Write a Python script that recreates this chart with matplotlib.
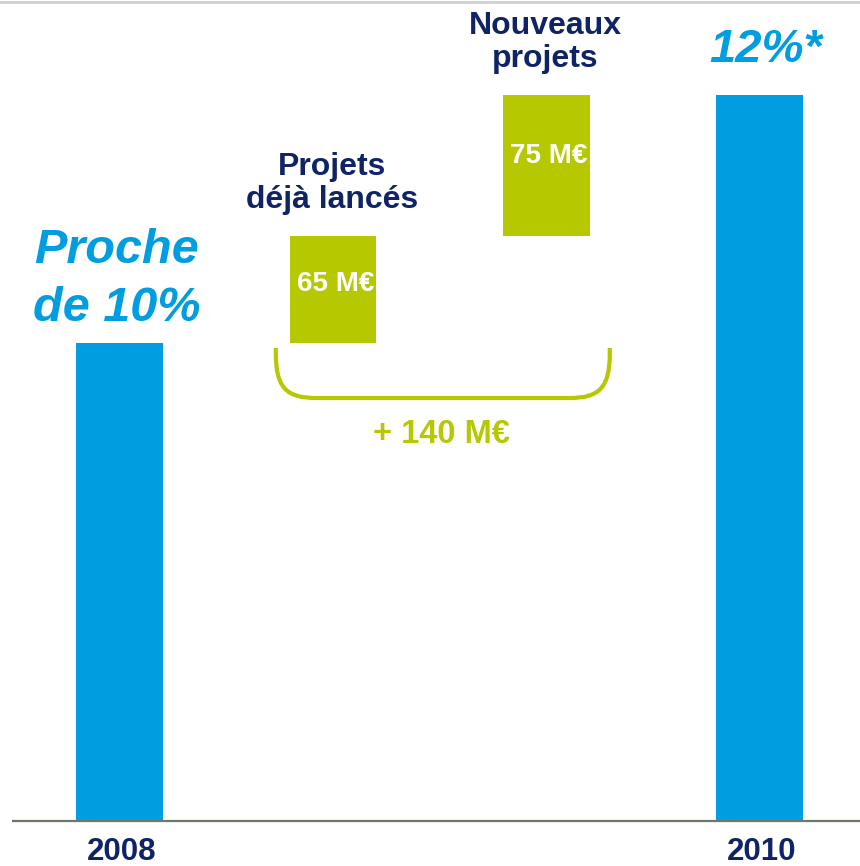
import numpy as np
import matplotlib.pyplot as plt
from matplotlib.path import Path
from matplotlib.patches import PathPatch
from matplotlib.lines import Line2D

# bar heights as drawn (the chart is not to scale, units are arbitrary)
years = ['2008', '2010']
base_2008 = 4.78
step_deja = 1.07
step_nouveaux = 1.41
total_2010 = base_2008 + step_deja + step_nouveaux

step_labels = ['65 M€', '75 M€']
step_titles = ['Projets\ndéjà lancés', 'Nouveaux\nprojets']
total_label = '+ 140 M€'
top_labels = ['Proche\nde 10%', '12%*']

BLUE = '#009ee0'
GREEN = '#b5c800'
NAVY = '#0f2466'

plt.rcParams['font.family'] = ['Liberation Sans', 'DejaVu Sans']

fig = plt.figure(figsize=(8.6, 8.66), dpi=100)
ax = fig.add_axes([0, 0, 1, 1])
ax.set_xlim(-0.56, 3.47)
ax.set_ylim(-0.45, 8.21)
ax.axis('off')

w = 0.405
x = np.arange(4)

# blue totals
ax.bar([x[0], x[3]], [base_2008, total_2010], width=w, color=BLUE, zorder=2)
# green floating steps
bottoms = [base_2008, base_2008 + step_deja]
ax.bar([x[1], x[2]], [step_deja, step_nouveaux], bottom=bottoms,
       width=w, color=GREEN, zorder=2)

# baseline
ax.plot([-0.505, 3.47], [0, 0], color='#6e7868', lw=1.6, zorder=3,
        solid_capstyle='butt')

# light frame line at top
fig.add_artist(Line2D([0, 1], [0.998, 0.998], color='#d0d0d0', lw=2.0))

bold = dict(fontweight='bold')

# year labels
for xi, yr in zip([x[0], x[3]], years):
    ax.text(xi + 0.01, -0.385, yr, ha='center', va='baseline',
            fontsize=22.5, color=NAVY, **bold)

# value labels over blue bars
l1, l2 = top_labels[0].split('\n')
ax.text(x[0] - 0.015, base_2008 + 0.80, l1, ha='center', va='baseline',
        fontsize=35, color=BLUE, style='italic', **bold)
ax.text(x[0] - 0.015, base_2008 + 0.22, l2, ha='center', va='baseline',
        fontsize=35, color=BLUE, style='italic', **bold)
ax.text(x[3] + 0.03, total_2010 + 0.33, top_labels[1], ha='center',
        va='baseline', fontsize=34, color=BLUE, style='italic', **bold)

# titles above green steps
tops = [bottoms[0] + step_deja, bottoms[1] + step_nouveaux]
for i, (t, top) in enumerate(zip(step_titles, tops)):
    a, b = t.split('\n')
    ax.text(x[1 + i] - 0.005, top + 0.61, a, ha='center', va='baseline',
            fontsize=23, color=NAVY, **bold)
    ax.text(x[1 + i] - 0.005, top + 0.28, b, ha='center', va='baseline',
            fontsize=23, color=NAVY, **bold)

# labels inside green steps
for i, (lab, bot, h) in enumerate(zip(step_labels, bottoms,
                                      [step_deja, step_nouveaux])):
    ax.text(x[1 + i] + 0.013, bot + h * (0.49 if i == 0 else 0.52), lab,
            ha='center', va='baseline', fontsize=20, color='white', **bold)

# bracket under the two steps
bx0, bx1 = x[1] - w / 2 - 0.065, x[2] + w / 2 + 0.095
by_top, by_bot = base_2008 - 0.05, base_2008 - 0.55
rx, ry = 0.19, 0.45
verts = [(bx0, by_top), (bx0, by_bot + ry),
         (bx0, by_bot + 0.1), (bx0 + 0.05, by_bot), (bx0 + rx, by_bot),
         (bx1 - rx, by_bot),
         (bx1 - 0.05, by_bot), (bx1, by_bot + 0.1), (bx1, by_bot + ry),
         (bx1, by_top)]
codes = [Path.MOVETO, Path.LINETO,
         Path.CURVE4, Path.CURVE4, Path.CURVE4,
         Path.LINETO,
         Path.CURVE4, Path.CURVE4, Path.CURVE4,
         Path.LINETO]
ax.add_patch(PathPatch(Path(verts, codes), fill=False, edgecolor=GREEN,
                       lw=3, zorder=2))
ax.text((bx0 + bx1) / 2 - 0.005, by_bot - 0.45, total_label, ha='center',
        va='baseline', fontsize=23.5, color=GREEN, **bold)

fig.savefig('out.png', dpi=100)
